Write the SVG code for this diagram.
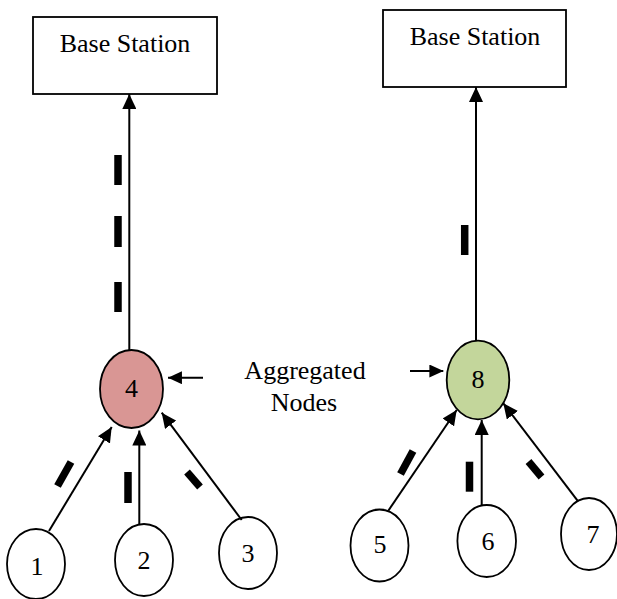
<svg xmlns="http://www.w3.org/2000/svg" width="617" height="599" viewBox="0 0 617 599">
<style>
.box{fill:#fff;stroke:#000;stroke-width:1.8}
.node{stroke:#000;stroke-width:1.8}
.t{font-family:"Liberation Serif","Times New Roman",serif;font-size:26px;fill:#000;text-anchor:middle}
.c{stroke:#000;stroke-width:2;fill:none}
.d{stroke:#000;stroke-width:7.5;stroke-linecap:butt}
</style>
<defs>
<marker id="ah" viewBox="0 0 15 14" refX="15" refY="7" markerWidth="15" markerHeight="14" markerUnits="userSpaceOnUse" orient="auto">
<path d="M0,0 L15,7 L0,14 z" fill="#000"/>
</marker>
<marker id="ahs" viewBox="0 0 15 14" refX="15" refY="7" markerWidth="14" markerHeight="13" markerUnits="userSpaceOnUse" orient="auto">
<path d="M0,0 L15,7 L0,14 z" fill="#000"/>
</marker>
</defs>
<g id="bs1"><rect class="box" x="33" y="17" width="184" height="77"/><text class="t" x="125" y="52">Base Station</text></g>
<g id="bs2"><rect class="box" x="383" y="10" width="183" height="77"/><text class="t" x="475" y="45">Base Station</text></g>
<g id="n4"><ellipse class="node" cx="131.5" cy="389" rx="31.5" ry="39" fill="#D99694"/><text class="t" x="131.5" y="397">4</text></g>
<g id="n8"><ellipse class="node" cx="478" cy="380" rx="31.3" ry="39.3" fill="#C3D69B"/><text class="t" x="478" y="388">8</text></g>
<g id="n1"><ellipse class="node" cx="36" cy="564" rx="29" ry="35" fill="#fff"/><text class="t" x="37" y="575">1</text></g>
<g id="n2"><ellipse class="node" cx="144" cy="560" rx="29" ry="36" fill="#fff"/><text class="t" x="144" y="569">2</text></g>
<g id="n3"><ellipse class="node" cx="248" cy="553" rx="29" ry="36" fill="#fff"/><text class="t" x="248" y="562">3</text></g>
<g id="n5"><ellipse class="node" cx="379.5" cy="545.5" rx="29" ry="36" fill="#fff"/><text class="t" x="380" y="553">5</text></g>
<g id="n6"><ellipse class="node" cx="486.7" cy="541" rx="29.3" ry="36" fill="#fff"/><text class="t" x="488" y="550">6</text></g>
<g id="n7"><ellipse class="node" cx="589" cy="534" rx="28" ry="36" fill="#fff"/><text class="t" x="593" y="543">7</text></g>
<g id="label"><text class="t" x="305" y="379">Aggregated</text><text class="t" x="304" y="411">Nodes</text></g>
<g id="connectors">
<line class="c" x1="129.3" y1="350" x2="129.3" y2="94" marker-end="url(#ah)"/>
<line class="c" x1="476" y1="341" x2="476" y2="87" marker-end="url(#ah)"/>
<line class="c" x1="49" y1="531" x2="111.7" y2="427" marker-end="url(#ah)"/>
<line class="c" x1="139.3" y1="524" x2="139.3" y2="430.5" marker-end="url(#ah)"/>
<line class="c" x1="241.7" y1="520" x2="161.7" y2="412.7" marker-end="url(#ah)"/>
<line class="c" x1="388.3" y1="510.7" x2="456.7" y2="410" marker-end="url(#ah)"/>
<line class="c" x1="481.7" y1="505" x2="481.7" y2="420" marker-end="url(#ah)"/>
<line class="c" x1="578.3" y1="501.7" x2="503.3" y2="403.3" marker-end="url(#ah)"/>
<line class="c" x1="203" y1="377.7" x2="168" y2="377.7" marker-end="url(#ahs)"/>
<line class="c" x1="410" y1="371" x2="443.3" y2="371" marker-end="url(#ahs)"/>
<line class="d" x1="118" y1="155" x2="118" y2="185"/>
<line class="d" x1="118" y1="216" x2="118" y2="247"/>
<line class="d" x1="118" y1="282" x2="118" y2="312"/>
<line class="d" x1="464.7" y1="225" x2="464.7" y2="255"/>
<line class="d" x1="57.5" y1="486" x2="71" y2="462"/>
<line class="d" x1="128" y1="472" x2="128" y2="503"/>
<line class="d" x1="187" y1="472" x2="200" y2="487"/>
<line class="d" x1="400.5" y1="474" x2="413" y2="451"/>
<line class="d" x1="469.5" y1="461.7" x2="469.5" y2="491.7"/>
<line class="d" x1="528.5" y1="461.5" x2="541.5" y2="477"/>
</g>
</svg>
